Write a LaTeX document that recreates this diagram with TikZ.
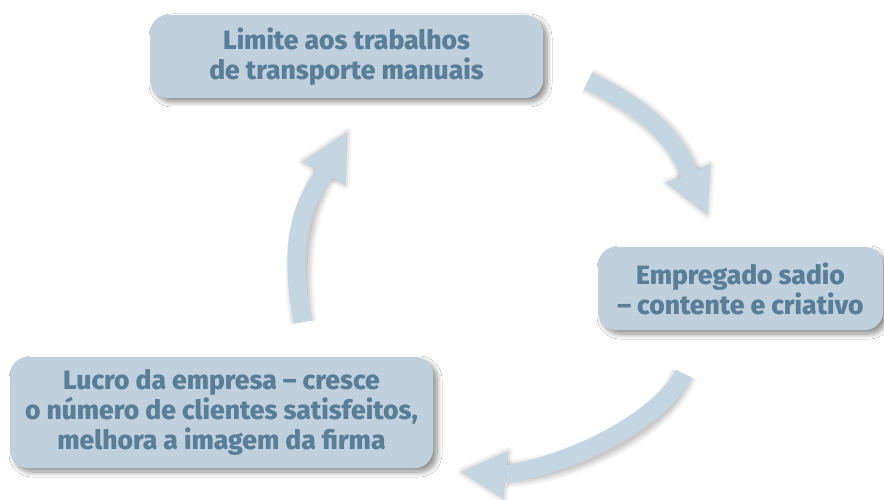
\documentclass[tikz,border=0pt]{standalone}
\usepackage{fontspec}
\IfFontExistsTF{Fira Sans Heavy}
  {\newfontfamily\boxfont{Fira Sans Heavy}}
  {\IfFontExistsTF{Fira Sans ExtraBold}
    {\newfontfamily\boxfont{Fira Sans ExtraBold}}
    {\newfontfamily\boxfont{Fira Sans}[UprightFont=* Bold]}}
\usetikzlibrary{shadows.blur}
\definecolor{boxfill}{RGB}{193,208,221}
\definecolor{arrowfill}{RGB}{197,214,227}
\definecolor{txt}{RGB}{88,126,152}
\begin{document}
\begin{tikzpicture}[x=1pt,y=-1pt,
  box/.style={fill=boxfill, rounded corners=18pt, text=txt, inner sep=0pt,
    font=\boxfont\fontsize{26.5}{30}\selectfont, align=center,
    blur shadow={shadow xshift=4pt, shadow yshift=-4pt, shadow blur steps=10, shadow opacity=45, shadow blur radius=5pt}},
  shaft/.style={draw=arrowfill, line width=18pt},
  ahead/.style={fill=arrowfill},
  shd/.style={draw=black, line join=round, opacity=#1},
]
\fill[white] (0,0) rectangle (884,500);
\useasboundingbox (0,0) rectangle (884,500);

% boxes
\node[box, minimum width=393pt, minimum height=83pt] (top) at (346.5,56.5) {Limite aos trabalhos\\de transporte manuais};
\node[box, minimum width=285pt, minimum height=83pt] (right) at (740.5,288.5) {Empregado sadio\\– contente e criativo};
\node[box, minimum width=423pt, minimum height=111pt] (left) at (221.5,412.5) {Lucro da empresa – cresce\\o número de clientes satisfeitos,\\melhora a imagem da firma};

% arrow coordinates
\coordinate (a1s) at (588,81);
\coordinate (a1e) at (690,176);
\coordinate (a1l) at (667,183);
\coordinate (a1r) at (710,165);
\coordinate (a1t) at (707,214);

\coordinate (a2s) at (684,374);
\coordinate (a2e) at (506,474);
\coordinate (a2l) at (508,452);
\coordinate (a2r) at (503,498);
\coordinate (a2t) at (462,472);

\coordinate (a3s) at (303,322);
\coordinate (a3e) at (326,172);
\coordinate (a3l) at (303,162);
\coordinate (a3r) at (345,185);
\coordinate (a3t) at (347,133);

% arrow shadows
\begin{scope}[shift={(5,5)}]
  \foreach \w/\o in {28/0.04, 24/0.05, 20/0.06, 16/0.07} {
    \draw[shd=\o, line width=\w pt] (a1s) .. controls (640,105) and (675,135) .. (a1e);
    \draw[shd=\o, line width=\w pt] (a2s) .. controls (660,420) and (570,465) .. (a2e);
    \draw[shd=\o, line width=\w pt] (a3s) .. controls (290,260) and (295,210) .. (a3e);
  }
  \foreach \w/\o in {10/0.04, 6/0.05, 2/0.06} {
    \filldraw[shd=\o, line width=\w pt] (a1l) -- (a1r) -- (a1t) -- cycle;
    \filldraw[shd=\o, line width=\w pt] (a2l) -- (a2r) -- (a2t) -- cycle;
    \filldraw[shd=\o, line width=\w pt] (a3l) -- (a3r) -- (a3t) -- cycle;
  }
\end{scope}

% arrows
\draw[shaft] (a1s) .. controls (640,105) and (675,135) .. (a1e);
\fill[ahead] (a1l) -- (a1r) -- (a1t) -- cycle;
\draw[shaft] (a2s) .. controls (660,420) and (570,465) .. (a2e);
\fill[ahead] (a2l) -- (a2r) -- (a2t) -- cycle;
\draw[shaft] (a3s) .. controls (290,260) and (295,210) .. (a3e);
\fill[ahead] (a3l) -- (a3r) -- (a3t) -- cycle;
\end{tikzpicture}
\end{document}
